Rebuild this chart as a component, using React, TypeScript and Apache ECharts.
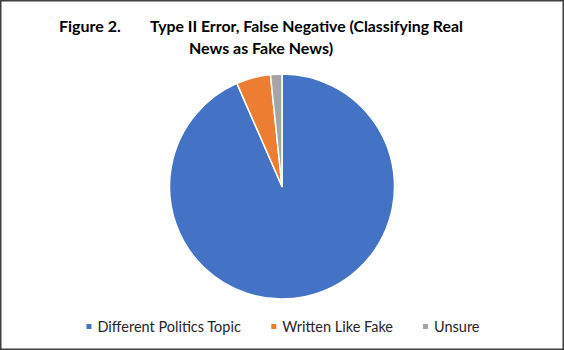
import React, { useEffect, useRef } from "react";
import * as echarts from "echarts";

const categories = ["Different Politics Topic", "Written Like Fake", "Unsure"];
const values = [57, 3, 1];
const colors = ["#4472C4", "#ED7D31", "#A5A5A5"];
const titleLine1a = "Figure 2.";
const titleLine1b = "Type II Error, False Negative (Classifying Real";
const titleLine2 = "News as Fake News)";

export default function App() {
  const ref = useRef<HTMLDivElement>(null);
  useEffect(() => {
    document.body.style.margin = "0";
    const chart = echarts.init(ref.current!, null, { renderer: "svg" });
    const font = "Lato, 'Open Sans', sans-serif";
    chart.setOption({
      animation: false,
      backgroundColor: "#ffffff",
      graphic: [
        {
          type: "rect",
          shape: { x: 0.75, y: 0.75, width: 562.5, height: 348.5 },
          style: { fill: "none", stroke: "#3f3f3f", lineWidth: 1.5 },
          silent: true,
        },
        {
          type: "text",
          x: 59,
          y: 25,
          style: { text: titleLine1a, font: `bold 16px ${font}`, fill: "#000", textVerticalAlign: "middle", textAlign: "left" },
        },
        {
          type: "text",
          x: 150,
          y: 25,
          style: { text: titleLine1b, font: `bold 15.8px ${font}`, fill: "#000", textVerticalAlign: "middle", textAlign: "left" },
        },
        {
          type: "text",
          x: 261,
          y: 47,
          style: { text: titleLine2, font: `bold 16px ${font}`, fill: "#000", textVerticalAlign: "middle", textAlign: "center" },
        },
      ],
      legend: {
        data: categories,
        bottom: 11,
        left: "center",
        icon: "rect",
        itemWidth: 7,
        itemHeight: 7,
        itemGap: 28,
        textStyle: { fontFamily: font, fontSize: 14.5, color: "#262626" },
      },
      series: [
        {
          type: "pie",
          center: [282, 186.5],
          radius: 112.5,
          startAngle: 90,
          clockwise: true,
          label: { show: false },
          labelLine: { show: false },
          emphasis: { disabled: true },
          itemStyle: { borderColor: "#ffffff", borderWidth: 1.5 },
          data: categories.map((c, i) => ({ name: c, value: values[i], itemStyle: { color: colors[i] } })),
        },
      ],
    });
    return () => chart.dispose();
  }, []);
  return <div ref={ref} style={{ width: 564, height: 350, position: "absolute", left: 0, top: 0 }} />;
}
